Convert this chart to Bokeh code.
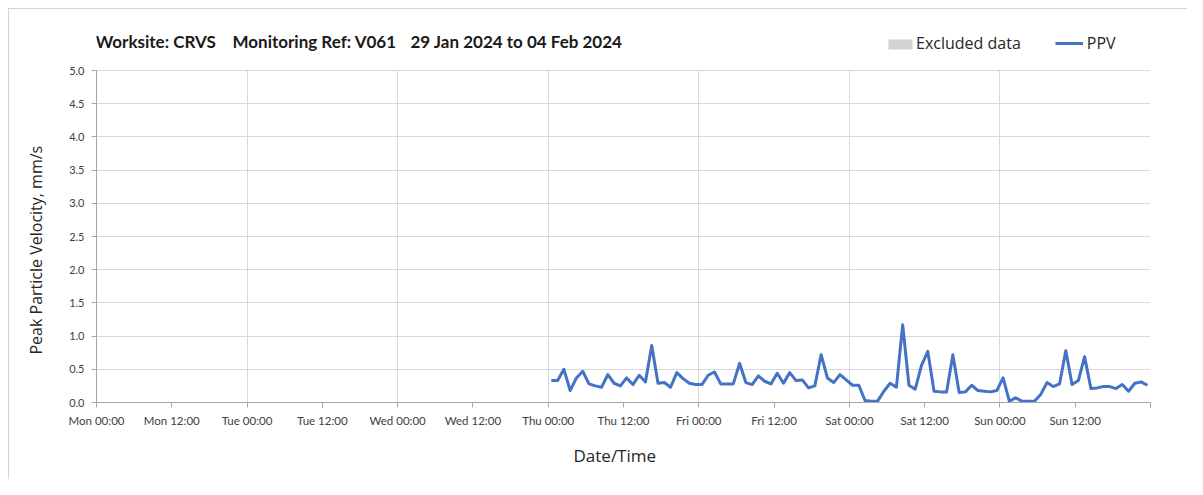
import pandas as pd
from bokeh.plotting import figure
from bokeh.models import (Range1d, FixedTicker, DatetimeTickFormatter, NumeralTickFormatter,
                          Label, Legend, LegendItem, BoxAnnotation, Title)
from bokeh.embed import file_html
from bokeh.resources import INLINE

# ---------------- data ----------------
title_parts = ["Worksite: CRVS", "Monitoring Ref: V061", "29 Jan 2024 to 04 Feb 2024"]
y_label = "Peak Particle Velocity, mm/s"
x_label = "Date/Time"
x_start = "2024-01-29 00:00"
x_end = "2024-02-05 00:00"
first_reading = "2024-02-01 00:30"

ppv = [
    0.33, 0.33, 0.50, 0.18, 0.37, 0.47, 0.28, 0.25, 0.23, 0.42, 0.29, 0.25,
    0.37, 0.27, 0.41, 0.31, 0.86, 0.29, 0.30, 0.23, 0.45, 0.36, 0.29, 0.27,
    0.27, 0.41, 0.46, 0.28, 0.28, 0.28, 0.59, 0.30, 0.27, 0.40, 0.32, 0.28,
    0.44, 0.29, 0.45, 0.33, 0.34, 0.22, 0.25, 0.72, 0.37, 0.30, 0.42, 0.34,
    0.26, 0.26, 0.03, 0.02, 0.02, 0.17, 0.29, 0.23, 1.17, 0.26, 0.20, 0.56,
    0.77, 0.17, 0.16, 0.16, 0.72, 0.15, 0.16, 0.26, 0.18, 0.17, 0.16, 0.18,
    0.37, 0.02, 0.07, 0.02, 0.02, 0.02, 0.12, 0.30, 0.24, 0.28, 0.78, 0.27,
    0.33, 0.69, 0.21, 0.22, 0.24, 0.24, 0.21, 0.27, 0.17, 0.29, 0.31, 0.26,
]
times = pd.date_range(first_reading, periods=len(ppv), freq="h")

excluded_start = []
excluded_end = []

y_min, y_max = 0.0, 5.0
y_ticks = [0.0, 0.5, 1.0, 1.5, 2.0, 2.5, 3.0, 3.5, 4.0, 4.5, 5.0]
x_ticks = pd.date_range(x_start, x_end, freq="12h")
x_grid = pd.date_range(x_start, x_end, freq="24h")

def ms(ts):
    return [t.timestamp() * 1000.0 for t in ts]

# ---------------- layout constants ----------------
W, H = 1187, 479
LEFT, RIGHT, TOP, BOTTOM = 96, 37, 20, 77      # frame extends upward to hold title + legend
PLOT_H = 332                                   # pixel height of the 0..5 value area
frame_h = H - TOP - BOTTOM
y_view_end = y_max * frame_h / PLOT_H

border_css = {
    "background-color": "white",
    "background-image": "linear-gradient(#d4d4d4, #d4d4d4), linear-gradient(#d4d4d4, #d4d4d4)",
    "background-size": "100% 1px, 1px 100%",
    "background-position": "8px 8px, 8px 8px",
    "background-repeat": "no-repeat",
}
p = figure(width=W, height=H, x_axis_type="datetime", output_backend="svg",
           toolbar_location=None, title=None,
           x_range=Range1d(pd.Timestamp(x_start), pd.Timestamp(x_end)),
           y_range=Range1d(y_min, y_view_end),
           min_border_left=LEFT, min_border_right=RIGHT, min_border_top=TOP,
           min_border_bottom=BOTTOM, styles=border_css)
p.outline_line_color = None
p.background_fill_color = "white"
p.border_fill_alpha = 0

TICK_FONT = "Lato"
LABEL_FONT = "Open Sans"
AXIS_COL = "#a6a6a6"
GRID_COL = "#d9d9d9"
TEXT_COL = "#262626"

# x axis
xa = p.xaxis[0]
xa.ticker = FixedTicker(ticks=ms(x_ticks), minor_ticks=[])
fmt = "%a %H:%M"
xa.formatter = DatetimeTickFormatter(microseconds=fmt, milliseconds=fmt, seconds=fmt,
                                     minsec=fmt, minutes=fmt, hourmin=fmt, hours=fmt,
                                     days=fmt, months=fmt, years=fmt)
xa.major_label_overrides = {ms([x_ticks[-1]])[0]: ""}
xa.major_label_text_font = TICK_FONT
xa.major_label_text_font_size = "11.5px"
xa.major_label_text_color = "#404040"
xa.major_label_standoff = 6
xa.axis_line_color = AXIS_COL
xa.major_tick_line_color = AXIS_COL
xa.major_tick_out = 5
xa.major_tick_in = 0
xa.minor_tick_line_color = None

# y axis
ya = p.yaxis[0]
ya.ticker = FixedTicker(ticks=y_ticks, minor_ticks=[])
ya.formatter = NumeralTickFormatter(format="0.0")
ya.bounds = (y_min, y_max)
ya.major_label_text_font = TICK_FONT
ya.major_label_text_font_size = "11px"
ya.major_label_text_color = "#404040"
ya.major_label_standoff = 7
ya.axis_line_color = AXIS_COL
ya.major_tick_line_color = AXIS_COL
ya.major_tick_out = 5
ya.major_tick_in = 0
ya.minor_tick_line_color = None

# axis titles as side-panel titles (offset only applies to left alignment)
p.add_layout(Title(text=y_label, align="left", offset=48, standoff=40,
                   text_font=LABEL_FONT, text_font_size="16px", text_font_style="normal",
                   text_color=TEXT_COL), "left")
p.add_layout(Title(text=x_label, align="left", offset=477, standoff=25,
                   text_font=LABEL_FONT, text_font_size="17px", text_font_style="normal",
                   text_color=TEXT_COL), "below")

# grids
p.xgrid.ticker = FixedTicker(ticks=ms(x_grid), minor_ticks=[])
p.xgrid.grid_line_color = GRID_COL
p.ygrid.grid_line_color = GRID_COL
try:
    p.xgrid.cross_bounds = (y_min, y_max)
    need_cover = False
except Exception:
    need_cover = True

# renderers
r_ex = p.quad(left=excluded_start, right=excluded_end, bottom=y_min, top=y_max,
              fill_color="#d3d3d3", line_color=None)
r_ppv = p.line(times, ppv, line_color="#4472C4", line_width=3, line_join="round")

if need_cover:
    p.add_layout(BoxAnnotation(bottom=y_max + 0.008, fill_color="white", fill_alpha=1,
                               line_color=None, level="annotation"))

# legend (inside the upper, empty part of the frame)
legend = Legend(items=[LegendItem(label="Excluded data", renderers=[r_ex]),
                       LegendItem(label="PPV", renderers=[r_ppv])],
                orientation="horizontal", location=(788, 348),
                glyph_width=28, glyph_height=12, label_standoff=4, spacing=34,
                padding=0, margin=0, border_line_color=None,
                background_fill_alpha=0,
                label_text_font=LABEL_FONT, label_text_font_size="16px",
                label_text_color=TEXT_COL)
p.add_layout(legend, "center")
# swatch for the "Excluded data" entry
p.add_layout(BoxAnnotation(left=792, right=816, bottom=353, top=363,
                           left_units="screen", right_units="screen",
                           bottom_units="screen", top_units="screen",
                           fill_color="#d3d3d3", fill_alpha=1, line_color=None))

# title parts, left edges where the reference starts them (frame-relative screen units)
title_x = [-1, 136, 314]
for txt, tx in zip(title_parts, title_x):
    p.add_layout(Label(x=tx, y=361, x_units="screen", y_units="screen", text=txt,
                       text_font=TICK_FONT, text_font_style="bold", text_font_size="17px",
                       text_color="#1a1a1a", text_align="left", text_baseline="middle"))

open("out.html", "w").write(file_html(p, INLINE))
